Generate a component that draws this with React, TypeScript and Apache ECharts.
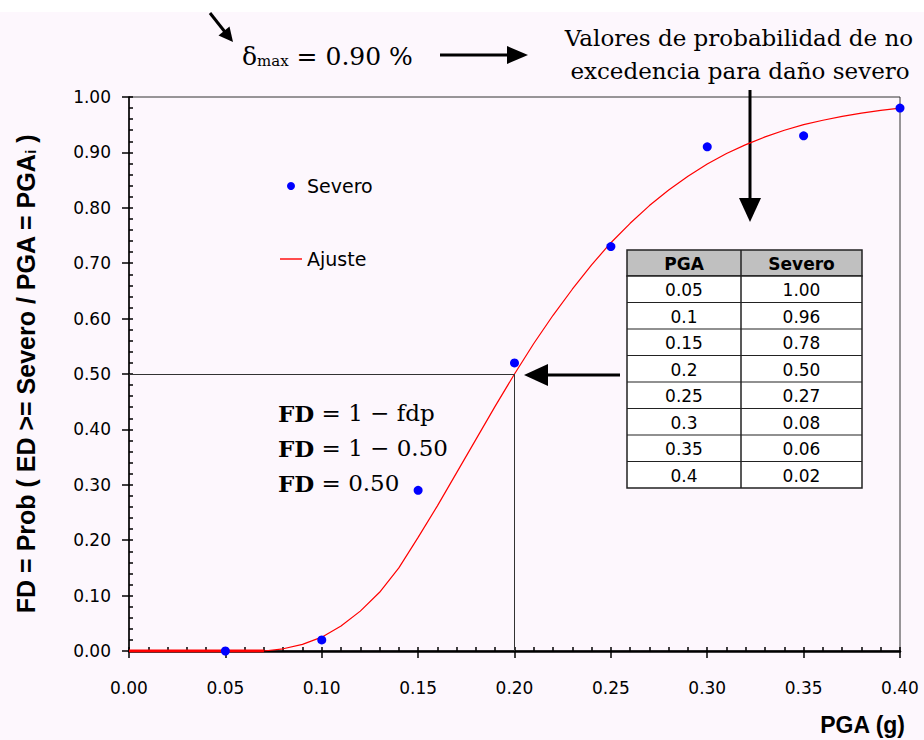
import React, { useEffect, useRef } from 'react';
import * as echarts from 'echarts';

// Observed damage (Severo) points
const severoPGA = [0.05, 0.10, 0.15, 0.20, 0.25, 0.30, 0.35, 0.40];
const severoFD = [0.00, 0.02, 0.29, 0.52, 0.73, 0.91, 0.93, 0.98];

// Fitted curve (Ajuste)
const ajustePGA = [0, 0.07, 0.08, 0.09, 0.10, 0.11, 0.12, 0.13, 0.14, 0.15, 0.16, 0.17, 0.18, 0.19, 0.20,
  0.21, 0.22, 0.23, 0.24, 0.25, 0.26, 0.27, 0.28, 0.29, 0.30, 0.31, 0.32, 0.33, 0.34, 0.35, 0.36, 0.37, 0.38, 0.39, 0.40];
const ajusteFD = [0, 0, 0.004, 0.012, 0.025, 0.045, 0.072, 0.106, 0.150, 0.205, 0.262, 0.322, 0.382, 0.442, 0.500,
  0.555, 0.606, 0.653, 0.697, 0.737, 0.772, 0.804, 0.832, 0.857, 0.879, 0.898, 0.914, 0.928, 0.940, 0.950, 0.958, 0.965, 0.971, 0.976, 0.980];

// Table values
const tableHeader = ['PGA', 'Severo'];
const tablePGA = ['0.05', '0.1', '0.15', '0.2', '0.25', '0.3', '0.35', '0.4'];
const tableSevero = ['1.00', '0.96', '0.78', '0.50', '0.27', '0.08', '0.06', '0.02'];

// Reference point (fdp = 0.50 at PGA = 0.20)
const refPGA = 0.20;
const refFD = 0.50;

const fmt2 = (v: number) => v.toFixed(2);

function buildTable() {
  const x0 = 627, y0 = 250, c1 = 114, c2 = 121, hH = 26, rH = 26.5;
  const els: any[] = [];
  els.push({ type: 'rect', shape: { x: x0, y: y0, width: c1 + c2, height: hH }, style: { fill: '#c0c0c0', stroke: '#222', lineWidth: 1.5 } });
  els.push({ type: 'rect', shape: { x: x0, y: y0 + hH, width: c1 + c2, height: rH * tablePGA.length }, style: { fill: '#ffffff', stroke: '#222', lineWidth: 1.5 } });
  els.push({ type: 'line', shape: { x1: x0 + c1, y1: y0, x2: x0 + c1, y2: y0 + hH + rH * tablePGA.length }, style: { stroke: '#222', lineWidth: 1.5 } });
  for (let i = 1; i < tablePGA.length; i++) {
    const y = y0 + hH + rH * i;
    els.push({ type: 'line', shape: { x1: x0, y1: y, x2: x0 + c1 + c2, y2: y }, style: { stroke: '#222', lineWidth: 1.2 } });
  }
  const hdrStyle = { fontFamily: 'DejaVu Sans', fontSize: 17, fontWeight: 'bold', fill: '#000', align: 'center', verticalAlign: 'middle' };
  els.push({ type: 'text', x: x0 + c1 / 2, y: y0 + hH / 2 + 1, style: { ...hdrStyle, text: tableHeader[0] } });
  els.push({ type: 'text', x: x0 + c1 + c2 / 2, y: y0 + hH / 2 + 1, style: { ...hdrStyle, text: tableHeader[1] } });
  const cellStyle = { fontFamily: 'DejaVu Sans', fontSize: 17, fill: '#000', align: 'center', verticalAlign: 'middle' };
  tablePGA.forEach((v, i) => {
    const y = y0 + hH + rH * i + rH / 2 + 1;
    els.push({ type: 'text', x: x0 + c1 / 2, y, style: { ...cellStyle, text: v } });
    els.push({ type: 'text', x: x0 + c1 + c2 / 2, y, style: { ...cellStyle, text: tableSevero[i] } });
  });
  return els;
}

export default function App() {
  const ref = useRef<HTMLDivElement>(null);
  useEffect(() => {
    const chart = echarts.init(ref.current!, null, { renderer: 'svg' });
    const axisFont = { fontFamily: 'DejaVu Sans', fontSize: 17, color: '#000' };
    const fdRich = {
      b: { fontFamily: 'DejaVu Serif', fontSize: 23, fontWeight: 'bold', fill: '#000' },
      n: { fontFamily: 'DejaVu Serif', fontSize: 23, fill: '#000' },
    };
    const option: any = {
      animation: false,
      backgroundColor: '#fdf7fd',
      grid: { left: 129, right: 24, top: 97, bottom: 89, show: true, borderColor: '#333', borderWidth: 1, backgroundColor: 'transparent' },
      legend: {
        left: 280, top: 176, orient: 'vertical', itemGap: 53, itemWidth: 22, itemHeight: 8, padding: 0,
        symbolKeepAspect: true,
        data: [
          { name: 'Severo', icon: 'circle' },
          { name: 'Ajuste', icon: 'path://M0,0H22V1.4H0Z', itemStyle: { color: '#ff0000' } },
        ],
        textStyle: { fontFamily: 'DejaVu Sans', fontSize: 19, color: '#000', lineHeight: 20 },
      },
      xAxis: [
        {
          type: 'value', min: 0, max: 0.4, interval: 0.05, position: 'bottom',
          axisLine: { show: true, onZero: false, lineStyle: { color: '#000', width: 2.5 } },
          axisTick: { show: true, inside: true, length: 4, lineStyle: { color: '#000', width: 1.5 } },
          minorTick: { show: true, splitNumber: 5, length: 4, lineStyle: { color: '#000', width: 1.5 } },
          splitLine: { show: false },
          axisLabel: { ...axisFont, margin: 28, formatter: fmt2 },
          name: 'PGA (g)', nameLocation: 'end', nameGap: 5,
          nameTextStyle: { fontFamily: 'Liberation Sans', fontWeight: 'bold', fontSize: 23, color: '#000', align: 'right', verticalAlign: 'top', padding: [62, 0, 0, 0] },
        },
        {
          type: 'value', min: 0, max: 0.4, interval: 0.05, position: 'bottom',
          axisLine: { show: false }, axisLabel: { show: false }, splitLine: { show: false },
          axisTick: { show: true, inside: false, length: 7, lineStyle: { color: '#000', width: 1.5 } },
        },
      ],
      yAxis: [
        {
          type: 'value', min: 0, max: 1, interval: 0.1, position: 'left',
          axisLine: { show: true, onZero: false, lineStyle: { color: '#000', width: 1.5 } },
          axisTick: { show: true, inside: true, length: 4, lineStyle: { color: '#000', width: 1.5 } },
          minorTick: { show: true, splitNumber: 5, length: 4, lineStyle: { color: '#000', width: 1.5 } },
          splitLine: { show: false },
          axisLabel: { ...axisFont, margin: 18, formatter: fmt2 },
          name: 'FD = Prob ( ED >= Severo / PGA = PGA{s|i} )', nameLocation: 'middle', nameGap: 91,
          nameTextStyle: {
            fontFamily: 'Liberation Sans', fontWeight: 'bold', fontSize: 25, color: '#000',
            rich: { s: { fontFamily: 'Liberation Sans', fontWeight: 'bold', fontSize: 15, color: '#000', verticalAlign: 'bottom' } },
          },
        },
        {
          type: 'value', min: 0, max: 1, interval: 0.1, position: 'left',
          axisLine: { show: false }, axisLabel: { show: false }, splitLine: { show: false },
          axisTick: { show: true, inside: false, length: 7, lineStyle: { color: '#000', width: 1.5 } },
        },
      ],
      series: [
        {
          type: 'line', name: 'AjusteBase', xAxisIndex: 0, yAxisIndex: 0, symbol: 'none', silent: true,
          data: ajustePGA.map((x, i) => [x, ajusteFD[i]]).filter((p) => p[1] === 0),
          lineStyle: { color: '#ff0000', width: 3 }, z: 3,
          markLine: {
            silent: true, symbol: 'none', label: { show: false },
            lineStyle: { color: '#333', width: 1, type: 'solid' },
            data: [
              [{ coord: [0, refFD] }, { coord: [refPGA, refFD] }],
              [{ coord: [refPGA, refFD] }, { coord: [refPGA, 0] }],
            ],
          },
        },
        {
          type: 'line', name: 'Ajuste', xAxisIndex: 0, yAxisIndex: 0, symbol: 'none', showSymbol: false,
          data: ajustePGA.map((x, i) => [x, ajusteFD[i]]),
          lineStyle: { color: '#ff0000', width: 1.2 }, itemStyle: { color: '#ff0000' }, z: 4,
        },
        {
          type: 'scatter', name: 'Severo', xAxisIndex: 0, yAxisIndex: 0, symbol: 'circle', symbolSize: 9,
          data: severoPGA.map((x, i) => [x, severoFD[i]]),
          itemStyle: { color: '#0000ff', opacity: 1 }, z: 5,
        },
      ],
      graphic: [
        { type: 'rect', z: -1, shape: { x: 0, y: 0, width: 924, height: 12 }, style: { fill: '#ffffff' } },
        // top-left small arrow
        { type: 'line', shape: { x1: 210, y1: 13, x2: 225, y2: 32 }, style: { stroke: '#000', lineWidth: 3 } },
        { type: 'polygon', shape: { points: [[233, 42], [229.5, 26.5], [218.5, 35.5]] }, style: { fill: '#000' } },
        // delta max text
        {
          type: 'text', x: 242, y: 56,
          style: {
            text: '{d|δ}{s|max}{n| = 0.90 %}', verticalAlign: 'middle', align: 'left',
            rich: {
              d: { fontFamily: 'DejaVu Serif', fontSize: 25, fill: '#000' },
              s: { fontFamily: 'DejaVu Serif', fontSize: 15, fill: '#000', verticalAlign: 'bottom' },
              n: { fontFamily: 'DejaVu Serif', fontSize: 25, fill: '#000' },
            },
          },
        },
        // right arrow
        { type: 'line', shape: { x1: 440, y1: 55, x2: 510, y2: 55 }, style: { stroke: '#000', lineWidth: 3 } },
        { type: 'polygon', shape: { points: [[507, 46], [528, 55], [507, 64]] }, style: { fill: '#000' } },
        // heading text
        { type: 'text', x: 739, y: 38, style: { text: 'Valores de probabilidad de no', fontFamily: 'DejaVu Serif', fontSize: 23, fill: '#000', align: 'center', verticalAlign: 'middle' } },
        { type: 'text', x: 740, y: 71, style: { text: 'excedencia para daño severo', fontFamily: 'DejaVu Serif', fontSize: 23, fill: '#000', align: 'center', verticalAlign: 'middle' } },
        // down arrow
        { type: 'line', shape: { x1: 750, y1: 90, x2: 750, y2: 200 }, style: { stroke: '#000', lineWidth: 3 } },
        { type: 'polygon', shape: { points: [[739, 198], [761, 198], [750, 222]] }, style: { fill: '#000' } },
        // left arrow at 0.50
        { type: 'line', shape: { x1: 545, y1: 375, x2: 620, y2: 375 }, style: { stroke: '#000', lineWidth: 3 } },
        { type: 'polygon', shape: { points: [[548, 364], [548, 386], [524, 375]] }, style: { fill: '#000' } },
        // FD equations
        { type: 'text', x: 278, y: 413, style: { text: '{b|FD}{n| = 1 − fdp}', verticalAlign: 'middle', rich: fdRich } },
        { type: 'text', x: 278, y: 448, style: { text: '{b|FD}{n| = 1 − 0.50}', verticalAlign: 'middle', rich: fdRich } },
        { type: 'text', x: 278, y: 483, style: { text: '{b|FD}{n| = 0.50}', verticalAlign: 'middle', rich: fdRich } },
        ...buildTable(),
      ],
    };
    chart.setOption(option);
    return () => chart.dispose();
  }, []);
  return <div ref={ref} style={{ position: 'fixed', left: 0, top: 0, width: 924, height: 740 }} />;
}
